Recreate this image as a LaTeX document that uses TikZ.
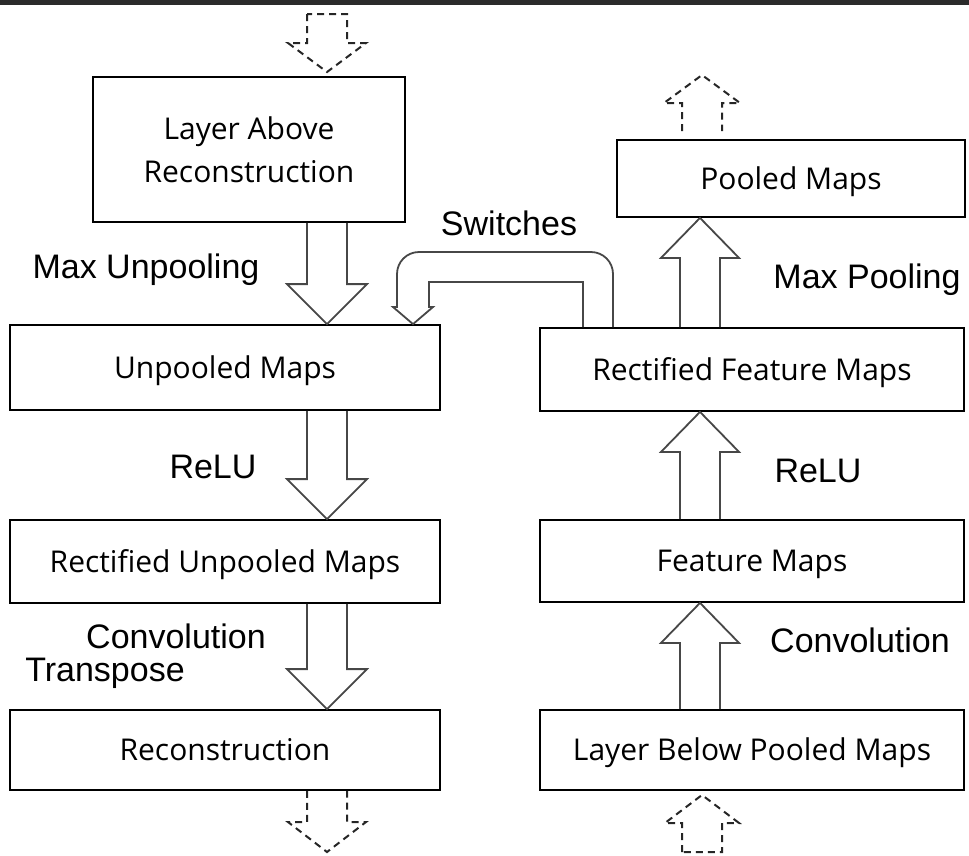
\documentclass[tikz,border=0pt]{standalone}
\usepackage{fontspec}
\setmainfont{Liberation Sans}
\newfontfamily\boxfont{Open Sans}
\usetikzlibrary{calc}

% Hollow block arrow: style, base centre, tip, head length, head half-width, closing
\newcommand\fatarrow[6]{%
  \draw[#1] let \p1=(#2), \p2=(#3), \p3=($(\p2)!#4!(\p1)$) in
    ({\x1-20pt},\y1) -- ({\x1-20pt},\y3) -- ({\x1-#5},\y3) -- (\p2)
    -- ({\x1+#5},\y3) -- ({\x1+20pt},\y3) -- ({\x1+20pt},\y1) #6;}

\begin{document}
\begin{tikzpicture}[x=1pt,y=-1pt,
  boxtext/.style={font=\boxfont\fontsize{30}{43}\selectfont,inner sep=0pt,align=center},
  mapbox/.style={boxtext,draw=black,line width=1.8pt,minimum height=#1,
    text height=21.4pt,text depth=0pt},
  opname/.style={font=\fontsize{34}{36}\selectfont,anchor=base,inner sep=0pt},
  fat/.style={draw=black!72,line width=1.8pt,line join=miter},
  fatdash/.style={draw=black!85,line width=2pt,dash pattern=on 7pt off 5pt}]

\useasboundingbox (0,0) rectangle (969,855);
\fill[black!83] (0,0) rectangle (969,5);

% left column: reconstruction path
\node[mapbox=145pt,minimum width=312pt] (la)   at (249,149.5) {};
\node[boxtext,anchor=base] (laText) at (249,182) {Layer Above\\Reconstruction};
\node[mapbox=85pt, minimum width=430pt] (um)   at (225,367.5) {Unpooled Maps};
\node[mapbox=83pt, minimum width=430pt] (rum)  at (225,561.5) {Rectified Unpooled Maps};
\node[mapbox=80pt, minimum width=430pt] (rec)  at (225,750)   {Reconstruction};

% right column: forward path
\node[mapbox=77pt, minimum width=348pt] (pm)   at (791,178.5) {Pooled Maps};
\node[mapbox=83pt, minimum width=424pt] (rfm)  at (752,369.5) {Rectified Feature Maps};
\node[mapbox=82pt, minimum width=424pt] (fm)   at (752,561)   {Feature Maps};
\node[mapbox=80pt, minimum width=424pt] (lbpm) at (752,750)   {Layer Below Pooled Maps};

\coordinate (cl) at (327,0);
\coordinate (cr) at (700,0);

% solid block arrows
\fatarrow{fat}{cl |- la.south}{cl |- um.north}{40pt}{40pt}{}
\fatarrow{fat}{cl |- um.south}{cl |- rum.north}{40pt}{40pt}{}
\fatarrow{fat}{cl |- rum.south}{cl |- rec.north}{40pt}{40pt}{}
\fatarrow{fat}{cr |- rfm.north}{cr |- pm.south}{40pt}{39pt}{}
\fatarrow{fat}{cr |- fm.north}{cr |- rfm.south}{40pt}{39pt}{}
\fatarrow{fat}{cr |- lbpm.north}{cr |- fm.south}{40pt}{39pt}{}

% dashed arrows to neighbouring layers
\coordinate (inTop)    at (327,14);
\coordinate (inTopTip) at (327,72);
\coordinate (outBot)   at (327,852);
\coordinate (outTop)   at (702,131);
\coordinate (outTopTip) at (702,75);
\coordinate (inBot)    at (702,852);
\coordinate (inBotTip) at (702,795);
\fatarrow{fatdash}{inTop}{inTopTip}{29pt}{39pt}{-- cycle}
\fatarrow{fatdash}{cl |- rec.south}{outBot}{30pt}{39pt}{}
\fatarrow{fatdash}{outTop}{outTopTip}{28pt}{38pt}{}
\fatarrow{fatdash}{inBot}{inBotTip}{28pt}{37pt}{-- cycle}

% switches carried from pooling to unpooling
\coordinate (swOut) at (613,0);
\coordinate (swIn)  at (583,0);
\coordinate (swTip) at (413,0);
\draw[fat] (swOut |- rfm.north) -- (613,274) arc[start angle=0,end angle=90,radius=22pt]
  -- (419,252) arc[start angle=90,end angle=180,radius=22pt]
  -- (397,307) -- (393,307) -- (swTip |- um.north) -- (433,307) -- (429,307)
  -- (429,282) -- (583,282) -- (swIn |- rfm.north);

% operation labels
\node[opname] (lMaxUnpool) at (146,278) {Max Unpooling};
\node[opname] (lSwitch)    at (509,235) {Switches};
\node[opname] (lReluL)     at (213,478) {ReLU};
\node[opname] (lConvT1)    at (176,648) {Convolution};
\node[opname] (lConvT2)    at (105,681) {Transpose};
\node[opname] (lMaxPool)   at (867,288) {Max Pooling};
\node[opname] (lReluR)     at (818,482) {ReLU};
\node[opname] (lConv)      at (860,652) {Convolution};
\end{tikzpicture}
\end{document}
